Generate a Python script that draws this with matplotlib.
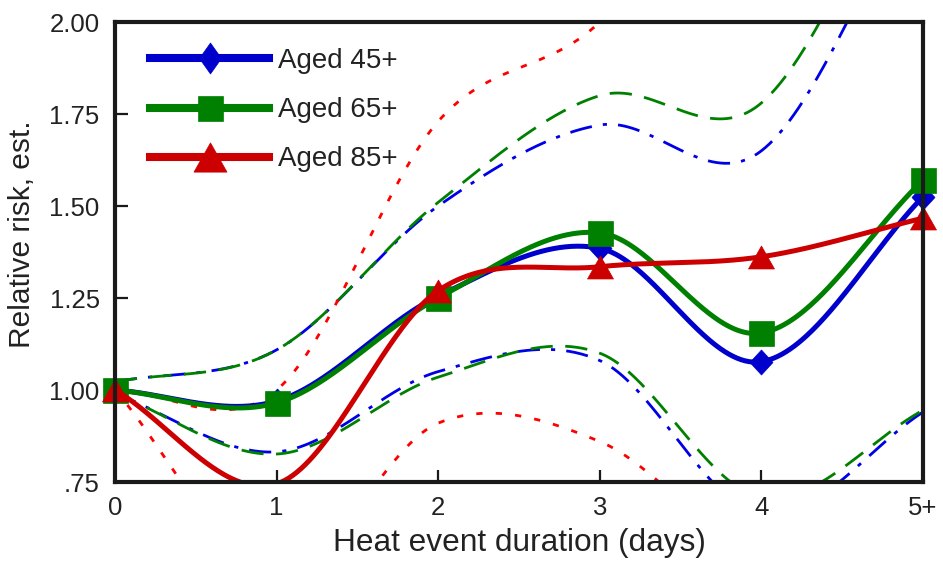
import numpy as np
import matplotlib
matplotlib.use("Agg")
import matplotlib.pyplot as plt
from matplotlib.path import Path
from matplotlib.lines import Line2D

plt.rcParams['font.family'] = ['Liberation Sans', 'DejaVu Sans']
plt.rcParams['lines.scale_dashes'] = False

# ---------------- data ----------------
days = [0, 1, 2, 3, 4, 5]
day_labels = ['0', '1', '2', '3', '4', '5+']
y_ticks = [0.75, 1.00, 1.25, 1.50, 1.75, 2.00]
y_tick_labels = ['.75', '1.00', '1.25', '1.50', '1.75', '2.00']

aged45 = [1.00, 0.97, 1.255, 1.385, 1.077, 1.525]
aged65 = [1.00, 0.965, 1.25, 1.427, 1.155, 1.57]
aged85 = [1.00, 0.745, 1.27, 1.335, 1.362, 1.467]

aged45_hi = [1.022, 1.109, 1.50, 1.72, 1.65, 2.40]
aged45_lo = [0.99, 0.832, 1.05, 1.08, 0.66, 0.94]
aged65_hi = [1.022, 1.109, 1.51, 1.80, 1.78, 2.55]
aged65_lo = [0.99, 0.826, 1.035, 1.10, 0.708, 0.945]
aged85_hi = [1.00, 1.00, 1.73, 2.00, 2.57, 2.70]
aged85_lo = [1.00, 0.50, 0.91, 0.86, 0.55, 0.60]

labels = ['Aged 45+', 'Aged 65+', 'Aged 85+']

# ---------------- smoothing (Catmull-Rom / cardinal Hermite) ----------------
def smooth(xs, ys, n=80):
    xs = np.asarray(xs, float)
    ys = np.asarray(ys, float)
    m = np.zeros_like(ys)
    m[1:-1] = (ys[2:] - ys[:-2]) / (xs[2:] - xs[:-2])
    m[0] = (ys[1] - ys[0]) / (xs[1] - xs[0])
    m[-1] = (ys[-1] - ys[-2]) / (xs[-1] - xs[-2])
    X, Y = [], []
    for i in range(len(xs) - 1):
        h = xs[i + 1] - xs[i]
        t = np.linspace(0, 1, n, endpoint=(i == len(xs) - 2))
        h00 = 2 * t**3 - 3 * t**2 + 1
        h10 = t**3 - 2 * t**2 + t
        h01 = -2 * t**3 + 3 * t**2
        h11 = t**3 - t**2
        X.append(xs[i] + t * h)
        Y.append(h00 * ys[i] + h10 * h * m[i] + h01 * ys[i + 1] + h11 * h * m[i + 1])
    return np.concatenate(X), np.concatenate(Y)

# ---------------- markers ----------------
def diamond(w):
    return Path([(0, 1), (w, 0), (0, -1), (-w, 0), (0, 1)],
                [Path.MOVETO, Path.LINETO, Path.LINETO, Path.LINETO, Path.CLOSEPOLY])

tri_h = 23.0 / 26.0
triangle = Path([(-1, -tri_h), (1, -tri_h), (0, tri_h), (-1, -tri_h)],
                [Path.MOVETO, Path.LINETO, Path.LINETO, Path.CLOSEPOLY])

blue, green, red = '#0000CC', '#008000', '#CC0000'
ci_blue, ci_red = '#0000E6', '#FF0000'
txt = '#222222'

fig = plt.figure(figsize=(9.43, 5.63), dpi=100)
ax = fig.add_axes([115 / 943, 81 / 563, 808 / 943, 460 / 563])
ax.set_xlim(0, 5)
ax.set_ylim(0.75, 2.0)

# confidence bounds
ci_specs = [
    (aged45_hi, ci_blue, (0, (16, 8, 3, 8))),
    (aged45_lo, ci_blue, (0, (16, 8, 3, 8))),
    (aged65_hi, green, (0, (16, 9))),
    (aged65_lo, green, (0, (16, 9))),
    (aged85_hi, ci_red, (0, (4.5, 9.5))),
    (aged85_lo, ci_red, (0, (4.5, 9.5))),
]
for vals, col, ls in ci_specs:
    sx, sy = smooth(days, vals)
    ax.plot(sx, sy, color=col, lw=2.0, linestyle=ls, zorder=2)

# main estimates
mains = [
    (aged45, blue, diamond(0.92), 18),
    (aged65, green, 's', 18),
    (aged85, red, triangle, 18.7),
]
ylo, yhi = ax.get_ylim()
for k, (vals, col, mk, ms) in enumerate(mains):
    sx, sy = smooth(days, vals)
    ax.plot(sx, sy, color=col, lw=3.6, zorder=3 + k, solid_capstyle='round')
    v = np.asarray(vals)
    d = np.asarray(days, float)
    inside = (v >= ylo) & (v <= yhi)
    ax.plot(d[inside], v[inside], linestyle='none', marker=mk, ms=ms,
            color=col, mec=col, mew=0.5, zorder=3.5 + k, clip_on=False)

# legend
handles = [
    Line2D([], [], color=blue, lw=5.8, marker=diamond(0.71), ms=22.3, mec=blue, mew=0.5),
    Line2D([], [], color=green, lw=5.8, marker='s', ms=18, mec=green, mew=0.5),
    Line2D([], [], color=red, lw=5.8, marker=triangle, ms=23.8, mec=red, mew=0.5),
]
ax.legend(handles, labels, loc='upper left', bbox_to_anchor=(0.0433, 0.943),
          frameon=False, fontsize=20, handlelength=4.3, handletextpad=0.3,
          labelspacing=0.83, borderpad=0, borderaxespad=0, labelcolor=txt)

# axes styling
ax.set_xticks(days)
ax.set_xticklabels(day_labels)
ax.set_yticks(y_ticks)
ax.set_yticklabels(y_tick_labels)
ax.tick_params(direction='in', length=9, width=1.6, colors='#1a1a1a',
               labelcolor=txt, labelsize=18.5, top=False, right=False)
ax.tick_params(axis='y', pad=11)
ax.tick_params(axis='x', pad=10)
for s in ax.spines.values():
    s.set_linewidth(3)
    s.set_color('#1a1a1a')
    s.set_zorder(10)

ax.set_xlabel('Heat event duration (days)', fontsize=22.8, color=txt, labelpad=6)
ax.set_ylabel('Relative risk, est.', fontsize=21.5, color=txt)
ax.yaxis.set_label_coords(-0.098, 0.539)

fig.savefig('out.png', dpi=100)
